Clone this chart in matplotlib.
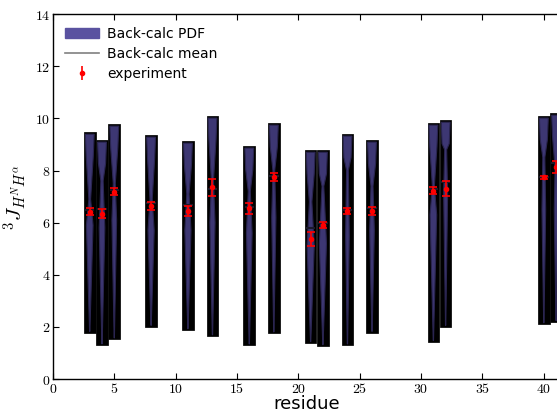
import matplotlib

matplotlib.use("Agg")
import matplotlib.pyplot as plt
from matplotlib.lines import Line2D
from matplotlib.patches import Patch

plt.rcParams["mathtext.fontset"] = "cm"

residues = [3, 4, 5, 8, 11, 13, 16, 18, 21, 22, 24, 26, 31, 32, 40, 41]
pdf_top = [9.47, 9.17, 9.78, 9.36, 9.13, 10.09, 8.94, 9.82, 8.78, 8.78, 9.40, 9.17, 9.82, 9.93, 10.09, 10.20]
pdf_bottom = [1.78, 1.30, 1.53, 2.01, 1.88, 1.65, 1.30, 1.76, 1.39, 1.27, 1.30, 1.78, 1.43, 2.01, 2.11, 2.19]
waist_y = [6.9, 7.6, 7.5, 6.9, 7.1, 7.6, 7.2, 8.0, 6.8, 7.4, 8.0, 7.4, 7.4, 8.8, 8.5, 8.1]
waist_w = [0.07, 0.09, 0.08, 0.09, 0.09, 0.08, 0.08, 0.07, 0.1, 0.07, 0.07, 0.08, 0.08, 0.08, 0.08, 0.08]
bulge_y = [5.9, 5.8, 6.1, 5.7, 5.7, 6.0, 5.6, 6.2, 5.1, 5.2, 5.5, 5.7, 6.3, 7.1, 6.5, 6.5]
bulge_w = [0.27, 0.23, 0.19, 0.25, 0.25, 0.21, 0.23, 0.17, 0.29, 0.29, 0.15, 0.19, 0.27, 0.16, 0.15, 0.15]
calc_mean = [6.47, 6.52, 7.25, 6.75, 6.67, 7.3, 6.6, 7.8, 5.78, 5.98, 6.5, 6.55, 7.3, 7.55, 7.75, 8.3]

exp_value = [6.42, 6.35, 7.19, 6.64, 6.46, 7.35, 6.55, 7.75, 5.36, 5.91, 6.46, 6.44, 7.22, 7.31, 7.74, 8.14]
exp_error = [0.13, 0.19, 0.13, 0.17, 0.19, 0.33, 0.2, 0.14, 0.27, 0.1, 0.12, 0.16, 0.13, 0.27, 0.05, 0.23]

pdf_color = "#3d3773"
legend_pdf_color = "#5a52a0"

fig = plt.figure(figsize=(5.57, 4.13), dpi=100)
ax = fig.add_axes([0.095, 0.082, 0.91, 0.884])

heights = [t - b for t, b in zip(pdf_top, pdf_bottom)]
ax.bar(residues, heights, bottom=pdf_bottom, width=0.95, color="black",
       edgecolor="#111111", linewidth=0.6, zorder=2)

for i, r in enumerate(residues):
    ys = [pdf_bottom[i] + 0.05, bulge_y[i], waist_y[i], pdf_top[i] - 0.9, pdf_top[i] - 0.08]
    ws = [0.01, bulge_w[i], waist_w[i], 0.29, 0.36]
    xs = [r - w for w in ws] + [r + w for w in ws[::-1]]
    yy = ys + ys[::-1]
    ax.fill(xs, yy, color=pdf_color, linewidth=0.8, edgecolor="#2a2550", zorder=3)
    ax.plot([r - 0.3, r + 0.3], [calc_mean[i], calc_mean[i]], color="#1a1a2a",
            linewidth=1.5, zorder=4)

ax.errorbar(residues, exp_value, yerr=exp_error, fmt="o", color="red", ms=3,
            elinewidth=1.2, capsize=3, capthick=1.2, zorder=5)

ax.set_xlim(0, 41.3)
ax.set_ylim(0, 14)
xt = list(range(0, 45, 5))
yt = list(range(0, 16, 2))
ax.set_xticks(xt, [f"${v}$" for v in xt])
ax.set_yticks(yt, [f"${v}$" for v in yt])
ax.tick_params(direction="in", top=True, right=False, labelsize=10, length=4, width=0.8, pad=2)
ax.spines["right"].set_visible(False)
for s in ["left", "bottom", "top"]:
    ax.spines[s].set_linewidth(1.0)

ax.set_xlabel("residue", fontsize=13, labelpad=-1)
ax.set_ylabel(r"$^3J_{H^NH^\alpha}$", fontsize=15, labelpad=4)

eb_handle = ax.errorbar([], [], yerr=[], fmt="o", color="red", ms=3,
                        elinewidth=1.2, capsize=3, capthick=1.2)
handles = [
    Patch(facecolor=legend_pdf_color, edgecolor=legend_pdf_color),
    Line2D([], [], color="gray", linewidth=1.2),
    eb_handle,
]
ax.legend(handles, ["Back-calc PDF", "Back-calc mean", "experiment"], loc="upper left",
          frameon=False, fontsize=10, handlelength=2.4, handletextpad=0.6,
          labelspacing=0.45, borderaxespad=0.5)

fig.savefig("out.png", dpi=100)
